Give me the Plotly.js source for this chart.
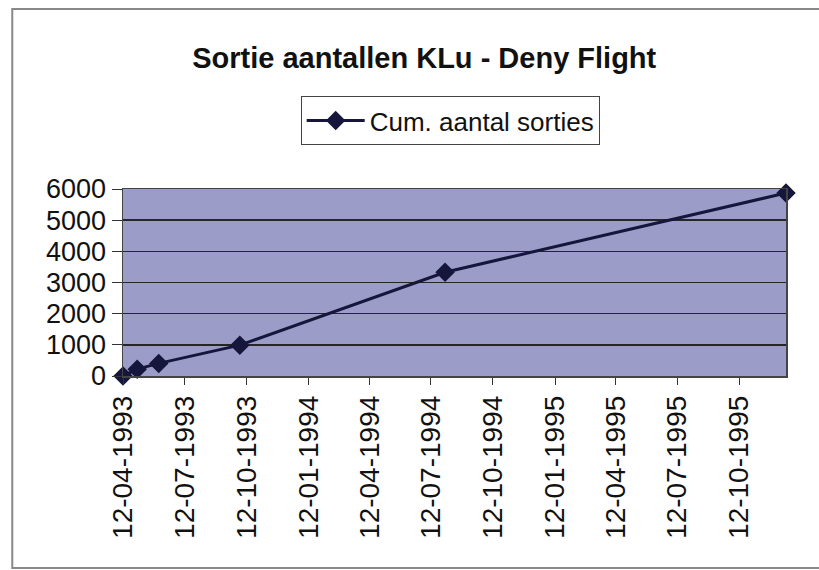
<!DOCTYPE html>
<html>
<head>
<meta charset="utf-8">
<script src="https://cdn.plot.ly/plotly-3.0.1.min.js"></script>
<style>body{margin:0;background:#fff}#chart{width:819px;height:570px}</style>
</head>
<body>
<div id="chart"></div>
<script>
// Data
const dates = ['1993-04-12', '1993-05-03', '1993-06-04', '1993-10-02', '1994-08-02', '1995-12-20'];
const cumSorties = [0, 220, 405, 990, 3330, 5870];
const seriesName = 'Cum. aantal sorties';
const chartTitle = 'Sortie aantallen KLu - Deny Flight';
const yTicks = [0, 1000, 2000, 3000, 4000, 5000, 6000];

const trace = {
  type: 'scatter',
  mode: 'lines+markers',
  name: seriesName,
  x: dates,
  y: cumSorties,
  cliponaxis: false,
  line: {color: '#16163c', width: 3},
  marker: {symbol: 'diamond', size: 15, color: '#16163c'},
  showlegend: true
};

const layout = {
  width: 819,
  height: 570,
  margin: {l: 123, r: 33, t: 189, b: 194},
  paper_bgcolor: '#ffffff',
  plot_bgcolor: '#9c9cc9',
  font: {family: 'Arial, "Liberation Sans", sans-serif', color: '#111111'},
  title: {
    text: '<b>' + chartTitle + '</b>',
    font: {size: 29, color: '#111111'},
    x: 0.518, xanchor: 'center',
    y: 0.898, yanchor: 'middle'
  },
  showlegend: true,
  legend: {
    x: 0.268, xanchor: 'left',
    y: 1.497, yanchor: 'top',
    bgcolor: '#ffffff',
    bordercolor: '#444444',
    borderwidth: 1,
    itemwidth: 58,
    font: {size: 26, color: '#111111'}
  },
  xaxis: {
    type: 'date',
    range: [dates[0], dates[dates.length - 1]],
    tick0: '1993-04-12',
    dtick: 'M3',
    tickformat: '%d-%m-%Y',
    tickangle: -90,
    tickfont: {size: 28, color: '#111111'},
    ticks: 'outside',
    ticklen: 7,
    tickcolor: '#333333',
    showgrid: false,
    showline: true,
    linecolor: '#444444',
    linewidth: 1.5,
    mirror: true,
    zeroline: false
  },
  yaxis: {
    range: [0, 6000],
    tickvals: yTicks,
    ticktext: yTicks.map(String),
    tickfont: {size: 27, color: '#111111'},
    ticks: 'outside',
    ticklen: 10,
    tickcolor: '#333333',
    showgrid: true,
    gridcolor: '#262626',
    gridwidth: 1.5,
    showline: true,
    linecolor: '#444444',
    linewidth: 1.5,
    mirror: true,
    zeroline: false
  },
  shapes: [{
    type: 'rect', xref: 'paper', yref: 'paper',
    x0: -0.167, x1: 1.2, y0: -1.027, y1: 1.963,
    line: {color: '#888888', width: 2},
    fillcolor: 'rgba(0,0,0,0)', layer: 'below'
  }]
};

Plotly.newPlot('chart', [trace], layout, {displayModeBar: false, staticPlot: true});
</script>
</body>
</html>
